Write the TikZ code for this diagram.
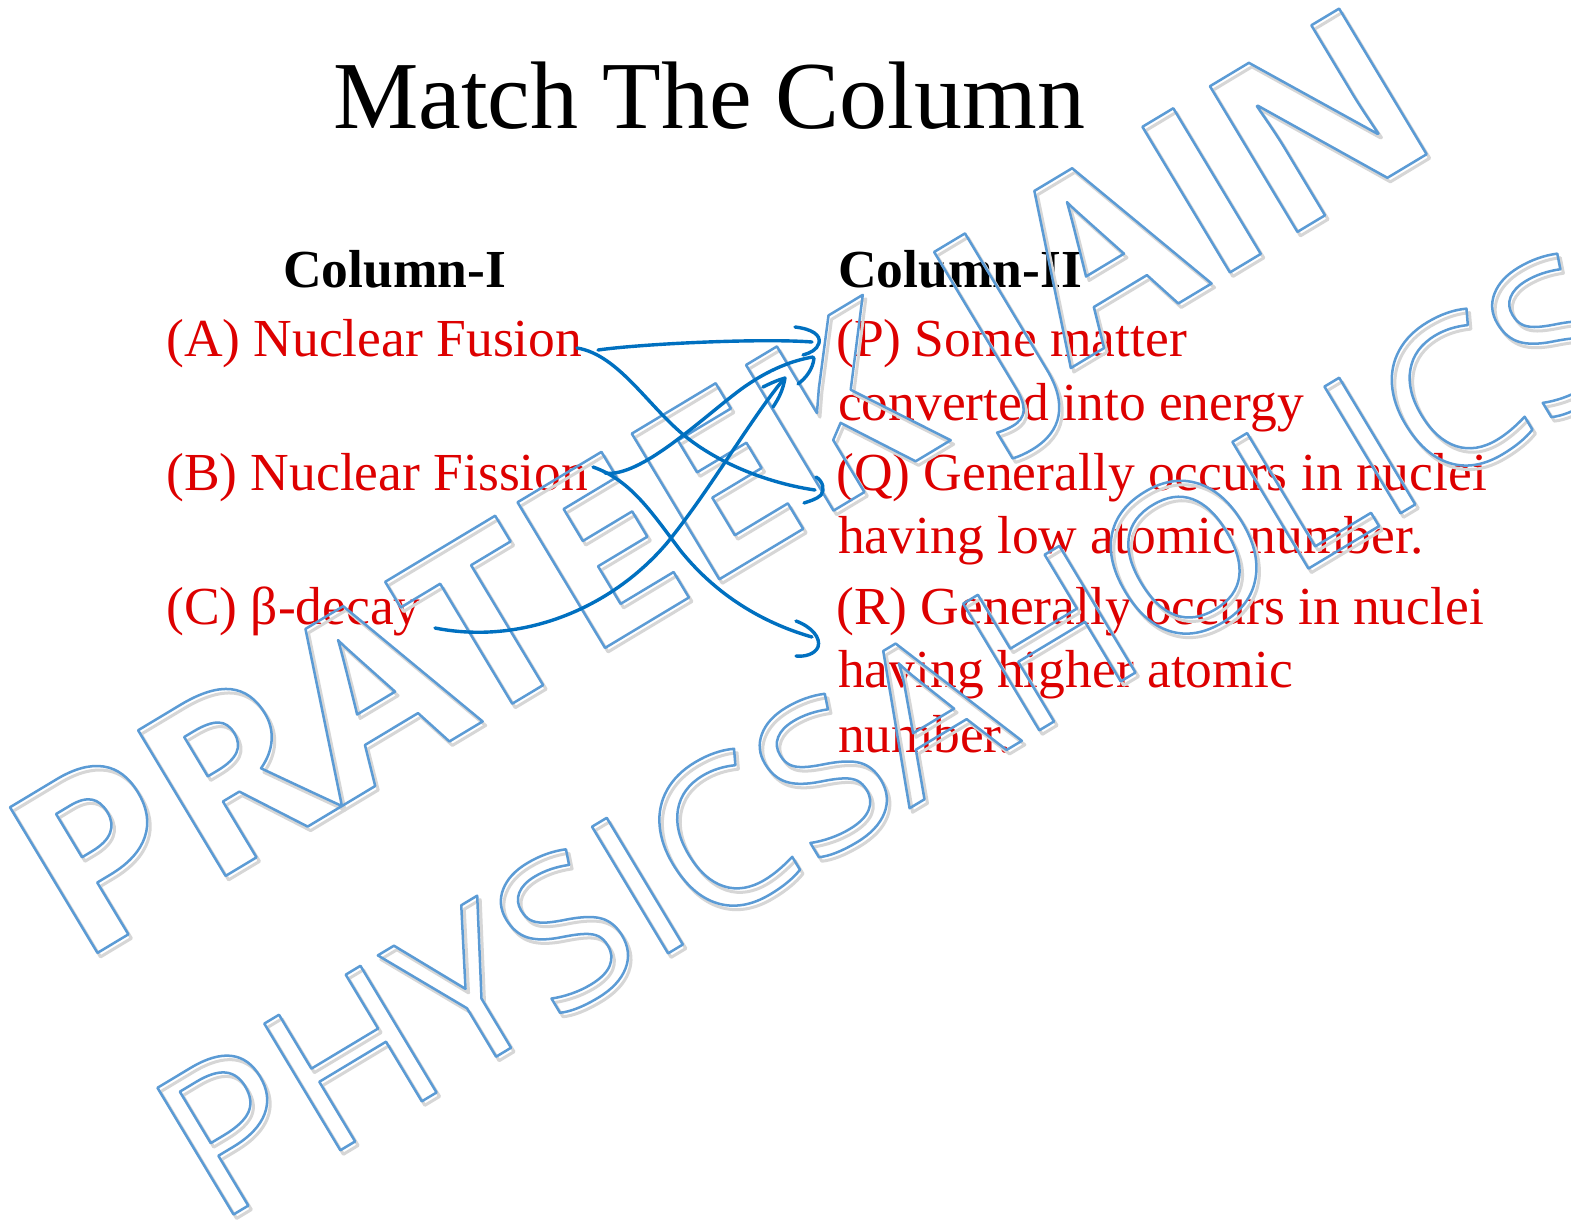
\documentclass[tikz,border=0pt]{standalone}
\usepackage{fontspec}
\setmainfont{Liberation Serif}
\newfontfamily\wmfont{Open Sans}
\definecolor{itemred}{RGB}{221,0,0}
\definecolor{penblue}{RGB}{0,112,192}
\newcommand\wmoutline[3]{\special{pdf:code q #1 w 1 j 1 J #2 RG 1 Tr}#3\special{pdf:code Q}}
\begin{document}
\begin{tikzpicture}[x=1pt,y=-1pt,
  titletext/.style={inner sep=0pt, anchor=base west, font=\fontsize{96}{96}\selectfont},
  header/.style={inner sep=0pt, anchor=base west, font=\fontsize{53.5}{53.5}\selectfont\bfseries},
  item/.style={inner sep=0pt, anchor=base west, text=itemred, font=\fontsize{53.5}{53.5}\selectfont},
  pen/.style={draw=penblue, line width=3.4pt, line cap=round, line join=round},
  wm/.style={inner sep=0pt, anchor=base west, rotate=31},
]
\useasboundingbox[fill=white] (0,0) rectangle (1571,1221);

% texts
\node[titletext] (title) at (333,128) {Match The Column};
\node[header] (c1) at (283,287) {Column-I};
\node[header] (c2) at (838,287) {Column-II};
\node[item] (A) at (166,356) {(A) Nuclear Fusion};
\node[item] (B) at (166,490) {(B) Nuclear Fission};
\node[item] (C) at (166,624) {(C) β-decay};
\node[item] (P1) at (836,356) {(P) Some matter};
\node[item] (P2) at (838,420) {converted into energy};
\node[item] (Q1) at (836,490) {(Q) Generally occurs in nuclei};
\node[item] (Q2) at (838,553) {having low atomic number.};
\node[item] (R1) at (836,624) {(R) Generally occurs in nuclei};
\node[item] (R2) at (838,687) {having higher atomic};
\node[item] (R3) at (838,752) {number.};

% watermark
\node[wm] (wm1s) at (82,968) {\wmfont\bfseries\fontsize{238}{238}\selectfont\wmoutline{3}{0.84 0.84 0.84}{PRATEEK JAIN}};
\node[wm] (wm2s) at (219,1229) {\wmfont\fontsize{207}{207}\selectfont\wmoutline{3}{0.84 0.84 0.84}{PHYSICSAHOLICS}};
\node[wm] (wm1) at (79,964) {\wmfont\bfseries\fontsize{238}{238}\selectfont\wmoutline{2.5}{0.357 0.608 0.835}{PRATEEK JAIN}};
\node[wm] (wm2) at (216,1225) {\wmfont\fontsize{207}{207}\selectfont\wmoutline{2.5}{0.357 0.608 0.835}{PHYSICSAHOLICS}};

% arrow end points
\coordinate (sA1) at (598,350);
\coordinate (sA2) at (577,348);
\coordinate (sB1) at (605,473);
\coordinate (sB2) at (593,467);
\coordinate (sC) at (435,628);
\coordinate (tP1) at (812,342);
\coordinate (tP2) at (813,357);
\coordinate (tP3) at (783,380);
\coordinate (tQ) at (815,490);
\coordinate (tR) at (812,637);

% A -> P
\draw[pen] (sA1) .. controls (640,344) and (760,338) .. (tP1);
\draw[pen] (795,327) .. controls (812,329) and (821,335) .. (819,343) .. controls (817,350) and (810,353) .. (803,355);
% A -> Q
\draw[pen] (sA2) .. controls (620,355) and (650,410) .. (690,440) .. controls (730,470) and (780,485) .. (tQ);
\draw[pen] (816,477) .. controls (823,481) and (825,490) .. (821,495) .. controls (817,499) and (810,501) .. (804,503);
% B -> P
\draw[pen] (sB1) .. controls (640,478) and (700,420) .. (740,390) .. controls (770,368) and (795,360) .. (tP2);
\draw[pen] (814,358) .. controls (813,369) and (806,378) .. (798,384);
% B -> R
\draw[pen] (sB2) .. controls (630,480) and (650,510) .. (680,550) .. controls (720,600) and (770,625) .. (tR);
\draw[pen] (796,621) .. controls (812,627) and (821,638) .. (818,647) .. controls (815,654) and (805,657) .. (796,656);
% C -> P
\draw[pen] (sC) .. controls (520,645) and (610,610) .. (667,543) .. controls (710,490) and (750,420) .. (tP3);
\draw[pen] (763,387) .. controls (771,383) and (778,380) .. (785,378) .. controls (783,390) and (779,398) .. (773,407);
\end{tikzpicture}
\end{document}
